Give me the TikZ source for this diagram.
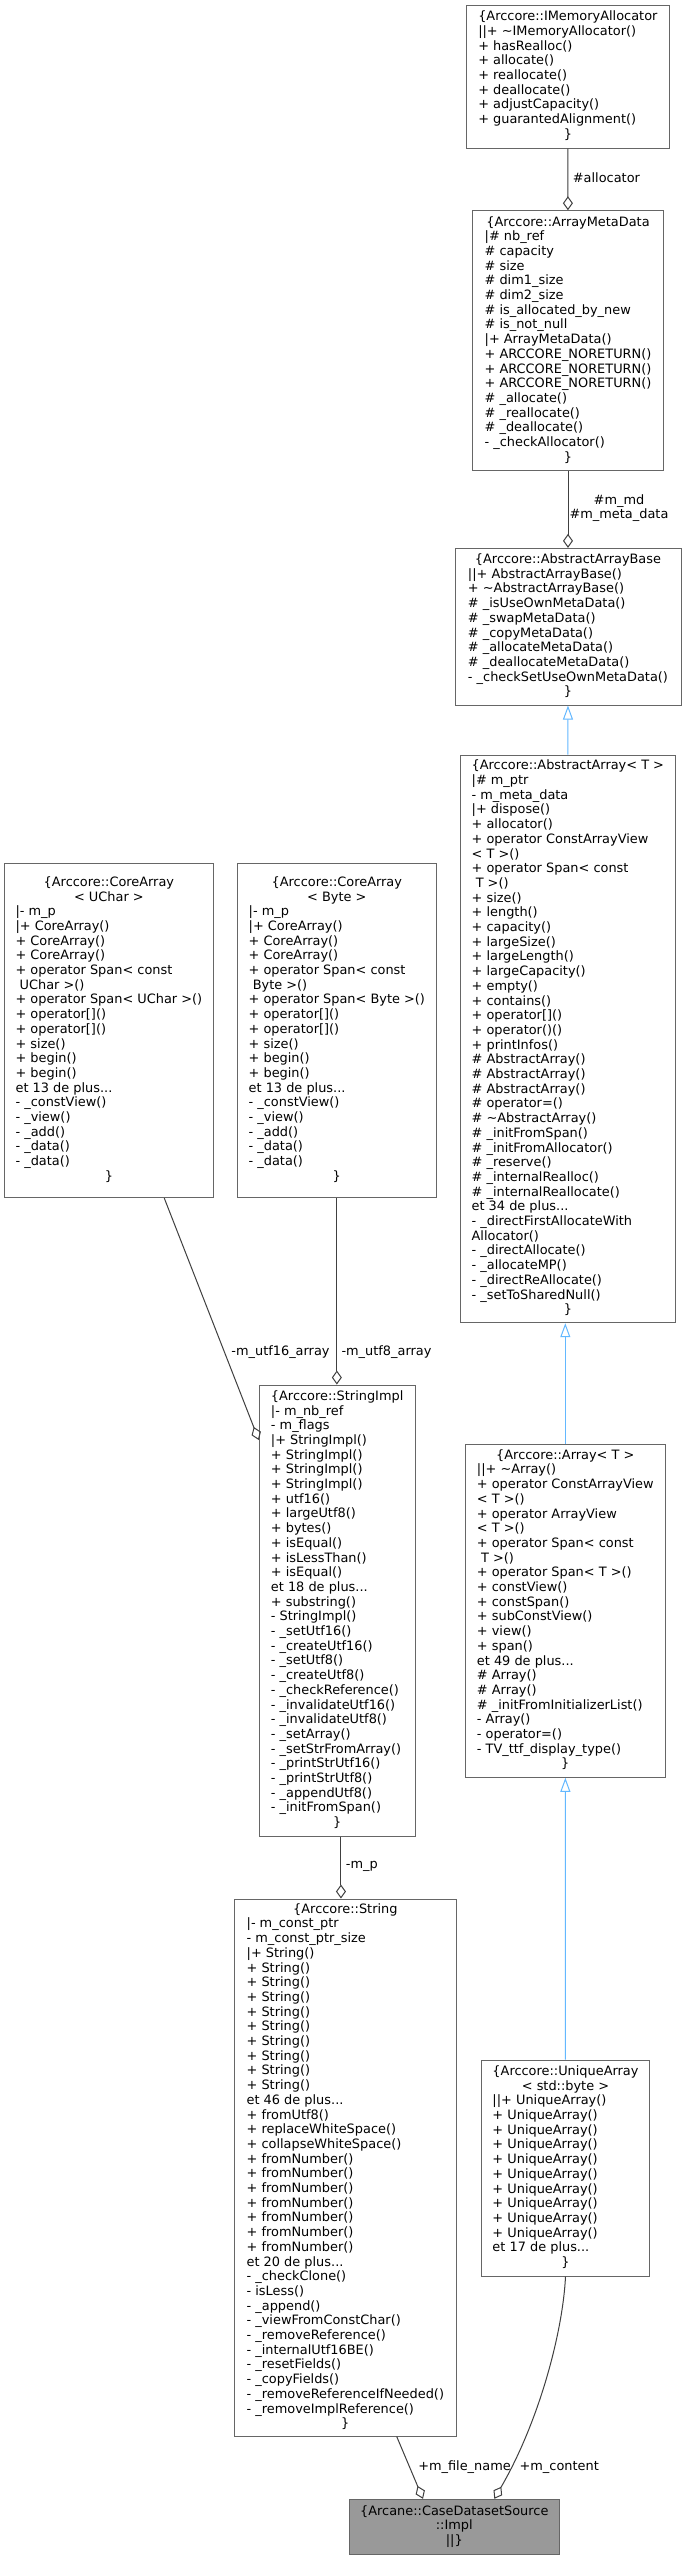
\documentclass[tikz,border=0pt]{standalone}
\usepackage{fontspec}
\setmainfont{DejaVu Sans}
\usetikzlibrary{arrows.meta}
\definecolor{nodeborder}{HTML}{666666}
\definecolor{edgegray}{HTML}{404040}
\definecolor{inhblue}{HTML}{63B8FF}
\definecolor{hlfill}{HTML}{999999}
\newcommand{\ctr}[1]{\multicolumn{1}{@{}c@{}}{#1}}
\tikzset{
  cls/.style={draw=nodeborder, line width=1pt, fill=white, inner sep=0pt,
    font=\fontsize{12.9}{14.7}\selectfont},
  comp/.style={draw=edgegray, line width=1pt, -{Diamond[open, length=14pt, width=10pt]}},
  inh/.style={draw=inhblue, line width=1pt, -{Triangle[open, length=14pt, width=10pt]}},
  lbl/.style={font=\fontsize{12.9}{14.7}\selectfont, inner sep=0pt, text=black},
}
\begin{document}
\begin{tikzpicture}[x=1pt,y=-1pt]
\useasboundingbox (0,0) rectangle (686,2560);
\fill[white] (0,0) rectangle (686,2560);

\node[cls, minimum width=202.3pt, minimum height=143pt] (ima) at (567.85,76.5) {\begin{tabular}{@{}l@{}}
\ctr{\{Arccore::IMemoryAllocator}\\
||+ \textasciitilde IMemoryAllocator()\\
+ hasRealloc()\\
+ allocate()\\
+ reallocate()\\
+ deallocate()\\
+ adjustCapacity()\\
+ guarantedAlignment()\\
\ctr{\}}
\end{tabular}};

\node[cls, minimum width=190.6pt, minimum height=260pt] (amd) at (568,340.7) {\begin{tabular}{@{}l@{}}
\ctr{\{Arccore::ArrayMetaData}\\
|\# nb\_ref\\
\# capacity\\
\# size\\
\# dim1\_size\\
\# dim2\_size\\
\# is\_allocated\_by\_new\\
\# is\_not\_null\\
|+ ArrayMetaData()\\
+ ARCCORE\_NORETURN()\\
+ ARCCORE\_NORETURN()\\
+ ARCCORE\_NORETURN()\\
\# \_allocate()\\
\# \_reallocate()\\
\# \_deallocate()\\
- \_checkAllocator()\\
\ctr{\}}
\end{tabular}};

\node[cls, minimum width=226pt, minimum height=156.7pt] (aab) at (568,626.7) {\begin{tabular}{@{}l@{}}
\ctr{\{Arccore::AbstractArrayBase}\\
||+ AbstractArrayBase()\\
+ \textasciitilde AbstractArrayBase()\\
\# \_isUseOwnMetaData()\\
\# \_swapMetaData()\\
\# \_copyMetaData()\\
\# \_allocateMetaData()\\
\# \_deallocateMetaData()\\
- \_checkSetUseOwnMetaData()\\
\ctr{\}}
\end{tabular}};

\node[cls, minimum width=214.7pt, minimum height=567.7pt] (aa) at (567.85,1038.85) {\begin{tabular}{@{}l@{}}
\ctr{\{Arccore::AbstractArray< T >}\\
|\# m\_ptr\\
- m\_meta\_data\\
|+ dispose()\\
+ allocator()\\
+ operator ConstArrayView\\
< T >()\\
+ operator Span< const\\
\ T >()\\
+ size()\\
+ length()\\
+ capacity()\\
+ largeSize()\\
+ largeLength()\\
+ largeCapacity()\\
+ empty()\\
+ contains()\\
+ operator[]()\\
+ operator()()\\
+ printInfos()\\
\# AbstractArray()\\
\# AbstractArray()\\
\# AbstractArray()\\
\# operator=()\\
\# \textasciitilde AbstractArray()\\
\# \_initFromSpan()\\
\# \_initFromAllocator()\\
\# \_reserve()\\
\# \_internalRealloc()\\
\# \_internalReallocate()\\
et 34 de plus...\\
- \_directFirstAllocateWith\\
Allocator()\\
- \_directAllocate()\\
- \_allocateMP()\\
- \_directReAllocate()\\
- \_setToSharedNull()\\
\ctr{\}}
\end{tabular}};

\node[cls, minimum width=200pt, minimum height=333.3pt] (arr) at (565.3,1610.65) {\begin{tabular}{@{}l@{}}
\ctr{\{Arccore::Array< T >}\\
||+ \textasciitilde Array()\\
+ operator ConstArrayView\\
< T >()\\
+ operator ArrayView\\
< T >()\\
+ operator Span< const\\
\ T >()\\
+ operator Span< T >()\\
+ constView()\\
+ constSpan()\\
+ subConstView()\\
+ view()\\
+ span()\\
et 49 de plus...\\
\# Array()\\
\# Array()\\
\# \_initFromInitializerList()\\
- Array()\\
- operator=()\\
- TV\_ttf\_display\_type()\\
\ctr{\}}
\end{tabular}};

\node[cls, minimum width=167.6pt, minimum height=216pt] (ua) at (565.5,2168) {\begin{tabular}{@{}l@{}}
\ctr{\{Arccore::UniqueArray}\\
\ctr{< std::byte >}\\
||+ UniqueArray()\\
+ UniqueArray()\\
+ UniqueArray()\\
+ UniqueArray()\\
+ UniqueArray()\\
+ UniqueArray()\\
+ UniqueArray()\\
+ UniqueArray()\\
+ UniqueArray()\\
+ UniqueArray()\\
et 17 de plus...\\
\ctr{\}}
\end{tabular}};

\node[cls, minimum width=208.8pt, minimum height=334.7pt] (cau) at (108.9,1030.35) {\begin{tabular}{@{}l@{}}
\ctr{\{Arccore::CoreArray}\\
\ctr{< UChar >}\\
|- m\_p\\
|+ CoreArray()\\
+ CoreArray()\\
+ CoreArray()\\
+ operator Span< const\\
\ UChar >()\\
+ operator Span< UChar >()\\
+ operator[]()\\
+ operator[]()\\
+ size()\\
+ begin()\\
+ begin()\\
et 13 de plus...\\
- \_constView()\\
- \_view()\\
- \_add()\\
- \_data()\\
- \_data()\\
\ctr{\}}
\end{tabular}};

\node[cls, minimum width=198.4pt, minimum height=334.7pt] (cab) at (336.85,1030.35) {\begin{tabular}{@{}l@{}}
\ctr{\{Arccore::CoreArray}\\
\ctr{< Byte >}\\
|- m\_p\\
|+ CoreArray()\\
+ CoreArray()\\
+ CoreArray()\\
+ operator Span< const\\
\ Byte >()\\
+ operator Span< Byte >()\\
+ operator[]()\\
+ operator[]()\\
+ size()\\
+ begin()\\
+ begin()\\
et 13 de plus...\\
- \_constView()\\
- \_view()\\
- \_add()\\
- \_data()\\
- \_data()\\
\ctr{\}}
\end{tabular}};

\node[cls, minimum width=155.7pt, minimum height=451pt] (si) at (337.15,1610.5) {\begin{tabular}{@{}l@{}}
\ctr{\{Arccore::StringImpl}\\
|- m\_nb\_ref\\
- m\_flags\\
|+ StringImpl()\\
+ StringImpl()\\
+ StringImpl()\\
+ StringImpl()\\
+ utf16()\\
+ largeUtf8()\\
+ bytes()\\
+ isEqual()\\
+ isLessThan()\\
+ isEqual()\\
et 18 de plus...\\
+ substring()\\
- StringImpl()\\
- \_setUtf16()\\
- \_createUtf16()\\
- \_setUtf8()\\
- \_createUtf8()\\
- \_checkReference()\\
- \_invalidateUtf16()\\
- \_invalidateUtf8()\\
- \_setArray()\\
- \_setStrFromArray()\\
- \_printStrUtf16()\\
- \_printStrUtf8()\\
- \_appendUtf8()\\
- \_initFromSpan()\\
\ctr{\}}
\end{tabular}};

\node[cls, minimum width=222.7pt, minimum height=537pt] (str) at (345.35,2167.5) {\begin{tabular}{@{}l@{}}
\ctr{\{Arccore::String}\\
|- m\_const\_ptr\\
- m\_const\_ptr\_size\\
|+ String()\\
+ String()\\
+ String()\\
+ String()\\
+ String()\\
+ String()\\
+ String()\\
+ String()\\
+ String()\\
+ String()\\
et 46 de plus...\\
+ fromUtf8()\\
+ replaceWhiteSpace()\\
+ collapseWhiteSpace()\\
+ fromNumber()\\
+ fromNumber()\\
+ fromNumber()\\
+ fromNumber()\\
+ fromNumber()\\
+ fromNumber()\\
+ fromNumber()\\
et 20 de plus...\\
- \_checkClone()\\
- isLess()\\
- \_append()\\
- \_viewFromConstChar()\\
- \_removeReference()\\
- \_internalUtf16BE()\\
- \_resetFields()\\
- \_copyFields()\\
- \_removeReferenceIfNeeded()\\
- \_removeImplReference()\\
\ctr{\}}
\end{tabular}};

\node[cls, fill=hlfill, minimum width=210pt, minimum height=55pt] (cds) at (454.3,2526.8) {\begin{tabular}{@{}c@{}}
\{Arcane::CaseDatasetSource\\
::Impl\\
||\}
\end{tabular}};

% labels
\node[lbl, anchor=west] (lalloc) at (572.7,178) {\#allocator};
\node[lbl, align=center] (lmd) at (619,508) {\#m\_md\\\#m\_meta\_data};
\node[lbl] (lu16) at (280.5,1352) {-m\_utf16\_array};
\node[lbl, anchor=west] (lu8) at (341.3,1352.3) {-m\_utf8\_array};
\node[lbl, anchor=west] (lmp) at (345.7,1866.7) {-m\_p};
\node[lbl] (lfn) at (464.5,2467.3) {+m\_file\_name};
\node[lbl] (lct) at (559.2,2467) {+m\_content};

% connectors
\draw[comp] (ima) -- (amd);
\draw[comp] (amd) -- (aab);
\draw[inh] (aa) -- (aab);
\draw[inh] (arr.north) -- (arr.north |- aa.south);
\draw[inh] (ua) -- (arr);
\draw[comp] (cab.south) -- (cab.south |- si.north);
\draw[comp] ([xshift=55.4pt]cau.south) -- ([yshift=170.5pt]si.west);
\draw[comp] ([xshift=3.8pt]si.south) -- ([xshift=3.8pt]si.south |- str.north);
\draw[comp] ([xshift=51.35pt]str.south) -- ([xshift=-31.3pt]cds.north);
\coordinate (uc1) at (563,2330);
\coordinate (uc2) at (540,2420);
\draw[comp] (ua.south) .. controls (uc1) and (uc2) .. ([xshift=40pt]cds.north);
\end{tikzpicture}
\end{document}
